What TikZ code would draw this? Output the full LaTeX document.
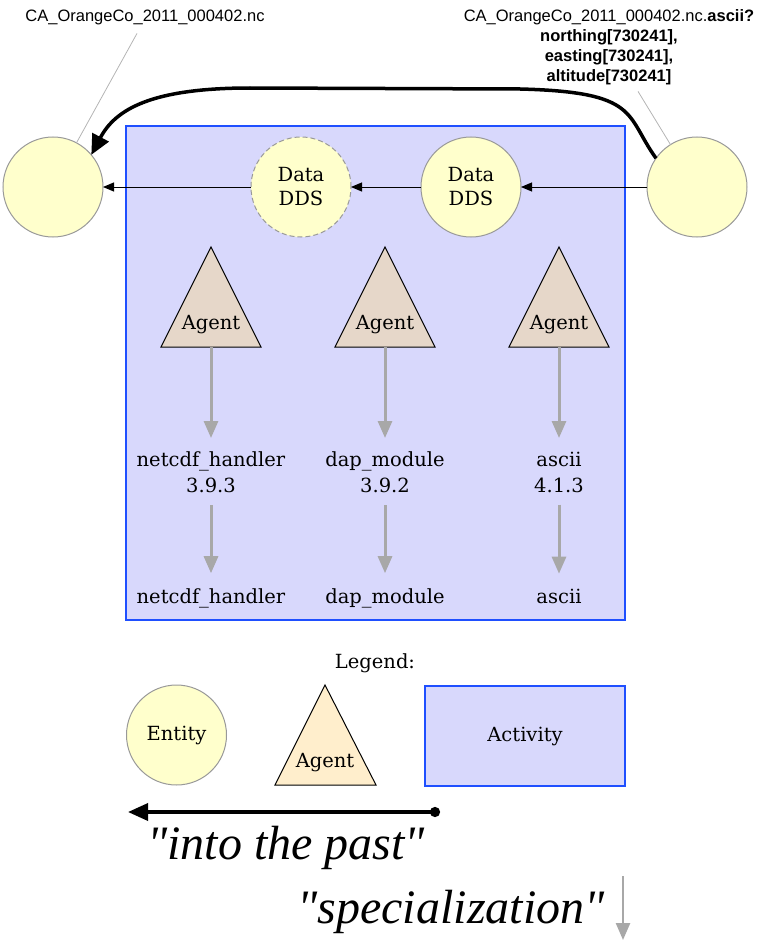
\documentclass[tikz,border=0pt]{standalone}
\usepackage{fontspec}
\setmainfont{DejaVu Serif}
\newfontfamily\notefont{Liberation Sans}
\newfontfamily\bigfont{Liberation Serif}
\usetikzlibrary{arrows.meta}
\usetikzlibrary{calc}

\definecolor{entityfill}{HTML}{FFFFCC}
\definecolor{entityline}{HTML}{999999}
\definecolor{activityfill}{HTML}{D8D8FC}
\definecolor{activityline}{HTML}{1F4FFF}
\definecolor{agentfill}{HTML}{E6D7C9}
\definecolor{legendagentfill}{HTML}{FFEECC}
\definecolor{specgray}{HTML}{A8A8A8}
\definecolor{notegray}{HTML}{B4B4B4}

\tikzstyle{entity}=[circle, draw=entityline, fill=entityfill, line width=1pt, minimum size=100pt, inner sep=0pt, outer sep=0pt, align=center, font=\fontsize{19.5}{24}\selectfont]
\tikzstyle{copy entity}=[entity, dash pattern=on 5pt off 3pt]
\tikzstyle{activity}=[rectangle, draw=activityline, fill=activityfill, line width=1.2pt, inner sep=0pt, outer sep=0pt, font=\fontsize{19.5}{24}\selectfont]
\tikzstyle{agent}=[draw=black, fill=agentfill, line width=1pt]
\tikzstyle{agent text}=[inner sep=0pt, font=\fontsize{19.5}{24}\selectfont]
\tikzstyle{plain text}=[inner sep=0pt, outer sep=0pt, align=center, font=\fontsize{19.5}{26}\selectfont]
\tikzstyle{note}=[inner sep=0pt, outer sep=0pt, align=center, font=\notefont\fontsize{16.5}{20}\selectfont]
\tikzstyle{note line}=[draw=notegray, line width=0.8pt]
\tikzstyle{derivation}=[draw=black, line width=1pt, -{Triangle[length=11pt,width=9pt]}]
\tikzstyle{specialization}=[draw=specgray, line width=3pt, -{Triangle[length=17pt,width=14pt]}]
\tikzstyle{past}=[draw=black, line width=3.5pt, -{Triangle[length=20pt,width=18pt]}]
\tikzstyle{big words}=[inner sep=0pt, font=\bigfont\itshape\fontsize{48}{50}\selectfont]

\begin{document}
\begin{tikzpicture}[x=1pt, y=-1pt]
  \useasboundingbox (0,0) rectangle (756,947);

  % the activity and its data
  \node[activity, minimum width=499pt, minimum height=494pt] (activity) at (375.5,373) {};
  \node[entity] (dataIn) at (53,187) {};
  \node[copy entity] (ddsCopy) at (301,187) {Data\\DDS};
  \node[entity] (dds) at (471,187) {Data\\DDS};
  \node[entity] (dataOut) at (697,187) {};

  \node[note, anchor=base] (lblIn) at (145,22) {CA\_OrangeCo\_2011\_000402.nc};
  \node[note, anchor=north] (lblOut) at (609,10) {CA\_OrangeCo\_2011\_000402.nc.\textbf{ascii?}\\\textbf{northing[730241],}\\\textbf{easting[730241],}\\\textbf{altitude[730241]}};
  \draw[note line] ($(lblIn.south)+(-8,8)$) -- (dataIn.62);
  \draw[note line] ($(lblOut.south)+(29,6)$) -- (dataOut.122);

  \draw[derivation] (dataOut) to (dds);
  \draw[derivation] (dds) to (ddsCopy);
  \draw[derivation] (ddsCopy) to (dataIn);
  \draw[past] (dataOut.145) .. controls (625,115) and (640,92) .. (520,89)
    -- (250,88) .. controls (150,88) and (115,110) .. (dataIn.40);

  % agents
  \draw[agent] (211,247) -- (261,347) -- (161,347) -- cycle;
  \node[agent text] (agentNc) at (211,325) {Agent};
  \coordinate (agentNcFoot) at (211,347);
  \draw[agent] (385,247) -- (435,347) -- (335,347) -- cycle;
  \node[agent text] (agentDap) at (385,325) {Agent};
  \coordinate (agentDapFoot) at (385,347);
  \draw[agent] (559,247) -- (609,347) -- (509,347) -- cycle;
  \node[agent text] (agentAscii) at (559,325) {Agent};
  \coordinate (agentAsciiFoot) at (559,347);

  % versions
  \node[plain text, anchor=north] (verNc) at (211,452) {netcdf\_handler\\3.9.3};
  \node[plain text, anchor=north] (verDap) at (385,452) {dap\_module\\3.9.2};
  \node[plain text, anchor=north] (verAscii) at (559,452) {ascii\\4.1.3};
  \node[plain text, anchor=base] (modNc) at (211,603) {netcdf\_handler};
  \node[plain text, anchor=base] (modDap) at (385,603) {dap\_module};
  \node[plain text, anchor=base] (modAscii) at (559,603) {ascii};

  \draw[specialization, shorten >=14pt] (agentNcFoot) to (verNc.north);
  \draw[specialization, shorten >=14pt] (agentDapFoot) to (verDap.north);
  \draw[specialization, shorten >=14pt] (agentAsciiFoot) to (verAscii.north);
  \draw[specialization, shorten <=12pt, shorten >=15pt] (verNc.south) to (modNc.north);
  \draw[specialization, shorten <=12pt, shorten >=15pt] (verDap.south) to (modDap.north);
  \draw[specialization, shorten <=12pt, shorten >=15pt] (verAscii.south) to (modAscii.north);

  % legend
  \node[plain text, anchor=base] (legend) at (375,668) {Legend:};
  \node[entity] (legendEntity) at (176.5,735) {Entity};
  \draw[agent, fill=legendagentfill] (325,685) -- (376,785) -- (275,785) -- cycle;
  \node[agent text] (legendAgent) at (325,763) {Agent};
  \node[activity, minimum width=200pt, minimum height=100pt] (legendActivity) at (525,736) {Activity};

  \coordinate (pastFrom) at (440,812);
  \coordinate (pastTo) at (128,812);
  \draw[past, {Circle[length=10pt]}-{Triangle[length=20pt,width=17pt]}] (pastFrom) to (pastTo);
  \node[big words, anchor=base] (pastWords) at (286,859) {"into the past"};
  \coordinate (specFrom) at (623,876);
  \coordinate (specTo) at (623,940);
  \draw[specialization, line width=2.5pt] (specFrom) to (specTo);
  \node[big words, anchor=base] (specWords) at (451,923) {"specialization"};
\end{tikzpicture}
\end{document}
